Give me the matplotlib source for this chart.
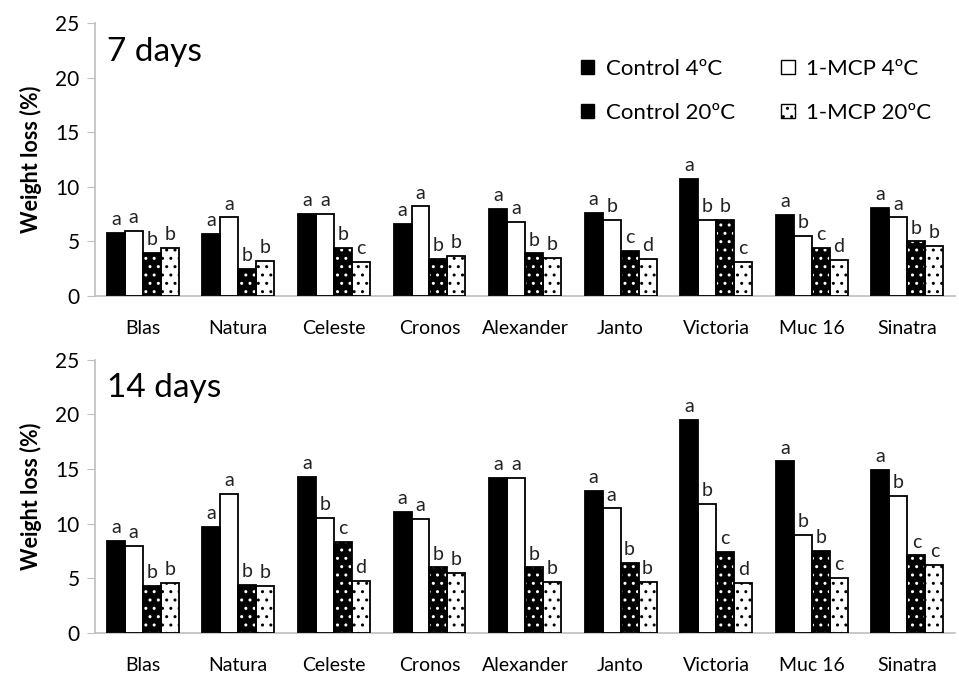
import numpy as np
import matplotlib
matplotlib.use('Agg')
import matplotlib.pyplot as plt
from matplotlib.patches import Patch

plt.rcParams['font.family'] = ['Lato', 'DejaVu Sans']
plt.rcParams['hatch.linewidth'] = 1.0

cultivars = ['Blas', 'Natura', 'Celeste', 'Cronos', 'Alexander', 'Janto', 'Victoria', 'Muc 16', 'Sinatra']
series = ['Control 4ºC', '1-MCP 4ºC', 'Control 20ºC', '1-MCP 20ºC']

# 7 days
ctrl4_7 = [5.8, 5.7, 7.5, 6.6, 8.0, 7.6, 10.7, 7.4, 8.1]
mcp4_7 = [5.95, 7.2, 7.5, 8.2, 6.8, 7.0, 7.0, 5.5, 7.2]
ctrl20_7 = [3.95, 2.5, 4.4, 3.4, 3.9, 4.1, 7.0, 4.4, 5.0]
mcp20_7 = [4.4, 3.2, 3.1, 3.7, 3.5, 3.4, 3.1, 3.3, 4.6]
letters_7 = [['a', 'a', 'b', 'b'], ['a', 'a', 'b', 'b'], ['a', 'a', 'b', 'c'],
             ['a', 'a', 'b', 'b'], ['a', 'a', 'b', 'b'], ['a', 'b', 'c', 'd'],
             ['a', 'b', 'b', 'c'], ['a', 'b', 'c', 'd'], ['a', 'a', 'b', 'b']]

# 14 days
ctrl4_14 = [8.4, 9.7, 14.3, 11.1, 14.2, 13.0, 19.5, 15.7, 14.9]
mcp4_14 = [8.0, 12.7, 10.5, 10.4, 14.2, 11.4, 11.8, 9.0, 12.5]
ctrl20_14 = [4.3, 4.4, 8.3, 6.0, 6.0, 6.4, 7.4, 7.5, 7.1]
mcp20_14 = [4.6, 4.3, 4.8, 5.5, 4.7, 4.7, 4.6, 5.0, 6.2]
letters_14 = [['a', 'a', 'b', 'b'], ['a', 'a', 'b', 'b'], ['a', 'b', 'c', 'd'],
              ['a', 'a', 'b', 'b'], ['a', 'a', 'b', 'b'], ['a', 'a', 'b', 'b'],
              ['a', 'b', 'c', 'd'], ['a', 'b', 'b', 'c'], ['a', 'b', 'c', 'c']]

# face, hatch colour, hatch
styles = [('black', 'black', ''), ('white', 'white', ''),
          ('black', 'white', '..'), ('white', 'black', '..')]

fig = plt.figure(figsize=(9.59, 6.73), dpi=100)
ax1 = fig.add_axes([0.099, 0.560, 0.897, 0.406])
ax2 = fig.add_axes([0.099, 0.0594, 0.897, 0.406])

x = np.arange(len(cultivars))
w = 0.188
grey = '#bfbfbf'

def draw(ax, data, letters, title):
    for j, vals in enumerate(data):
        face, hcol, hatch = styles[j]
        pos = x + (j - 1.5) * w
        ax.bar(pos, vals, w, color=face, edgecolor=hcol, hatch=hatch, linewidth=0, zorder=2)
        ax.bar(pos, vals, w, fill=False, edgecolor='black', linewidth=1.3, zorder=3)
        for i, v in enumerate(vals):
            ax.text(pos[i], v + 0.45, letters[i][j], ha='center', va='bottom', fontsize=14, color='#222222')
    ax.set_xlim(-0.5, len(cultivars) - 0.5)
    ax.set_ylim(0, 25)
    ax.set_yticks([0, 5, 10, 15, 20, 25])
    ax.set_xticks(x)
    ax.set_xticklabels(cultivars, fontsize=14)
    ax.tick_params(axis='x', length=0, pad=17)
    ax.tick_params(axis='y', length=6, color=grey, labelsize=15, pad=5)
    for s in ['top', 'right']:
        ax.spines[s].set_visible(False)
    for s in ['left', 'bottom']:
        ax.spines[s].set_color(grey)
        ax.spines[s].set_linewidth(1.2)
    ax.set_ylabel('Weight loss (%)', fontsize=15.5, fontweight='bold', labelpad=10)
    ax.text(0.014, 0.895, title, transform=ax.transAxes, fontsize=24, va='center')

draw(ax1, [ctrl4_7, mcp4_7, ctrl20_7, mcp20_7], letters_7, '7 days')
draw(ax2, [ctrl4_14, mcp4_14, ctrl20_14, mcp20_14], letters_14, '14 days')

handles = []
for j in [0, 2, 1, 3]:
    face, hcol, hatch = styles[j]
    handles.append(Patch(facecolor=face, edgecolor='black', hatch=hatch, label=series[j]))
leg = ax1.legend(handles=handles, ncol=2, loc='upper right', bbox_to_anchor=(0.995, 0.94),
                 frameon=False, fontsize=16, handlelength=0.6, handleheight=0.6,
                 handletextpad=0.5, columnspacing=2.1, labelspacing=1.05)

fig.savefig('out.png', dpi=100)
